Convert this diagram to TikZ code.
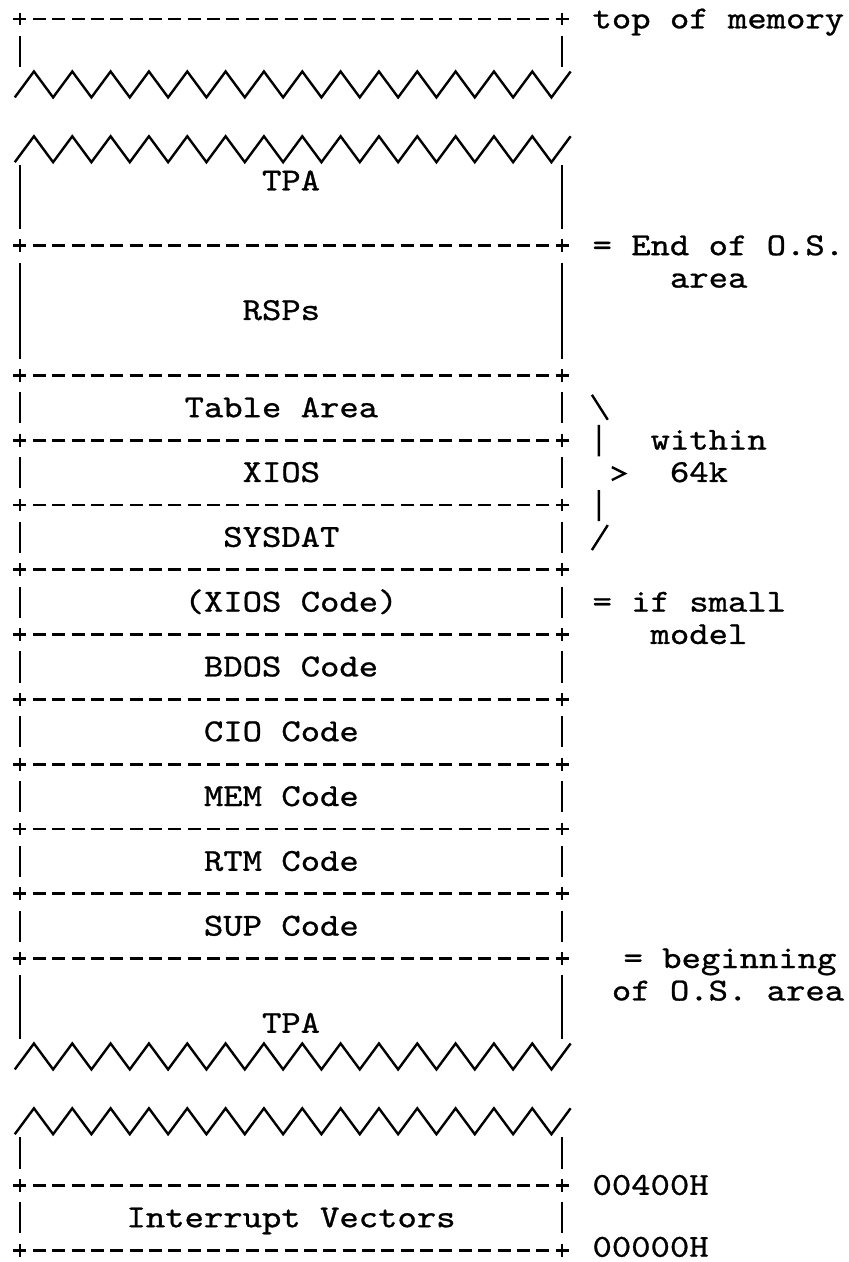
\documentclass[tikz,border=0pt]{standalone}
\usepackage{fontspec}
\usepackage{graphicx}
\usepackage{tikz}
\newfontfamily\typewriter{lmmono10-regular.otf}[FakeBold=0.8]
\newcommand\memfont{\typewriter\fontsize{16}{19}\selectfont}
\newcommand\tw[1]{\scalebox{1.152}[1]{#1}}
\tikzset{every picture/.style={line width=1.4pt}}
\tikzset{
  rowsep/.style={dash pattern=on 6.5pt off 3.18pt},
  cell/.style={font=\memfont, inner sep=0pt, anchor=base},
  side/.style={font=\memfont, inner sep=0pt, anchor=base west}
}

\begin{document}
\begin{tikzpicture}[x=9.68pt,y=-16.2pt]
\useasboundingbox (-1.033,0.414) rectangle (42.77,39.364);
%
\foreach \r in {1,8,12,14,16,18,20,22,24,26,28,30,37,39}{
  \draw[rowsep] (-0.336,\r) -- (28.336,\r);
  \draw (0,\r-0.2) -- (0,\r+0.2) (28,\r-0.2) -- (28,\r+0.2);
}
%
\foreach \a/\b in {2/2,6/7,9/11,13/13,15/15,17/17,19/19,21/21,23/23,25/25,27/27,29/29,31/32,36/36,38/38}{
  \draw[line width=1.1pt] (0,\a-0.48) -- (0,\b+0.48) (28,\a-0.48) -- (28,\b+0.48);
}
%
\foreach \r in {3,5,33,35}{
  \draw[line width=1.2pt] (-0.27,\r+0.42) \foreach \k in {1,...,14}{ -- ++(0.99,-0.8) -- ++(0.99,0.8)} -- ++(0.99,-0.8);
}
%
\node[cell] (tpahi) at (14,6.29) {\tw{TPA}};
\node[cell] (rsp) at (13.5,10.29) {\tw{RSPs}};
\node[cell] (table) at (13.5,13.29) {\tw{Table Area}};
\node[cell] (xios) at (13.5,15.29) {\tw{XIOS}};
\node[cell] (sysdat) at (13.5,17.29) {\tw{SYSDAT}};
\node[cell] (xioscode) at (14,19.29) {\tw{(XIOS Code)}};
\node[cell] (bdos) at (14,21.29) {\tw{BDOS Code}};
\node[cell] (cio) at (13.5,23.29) {\tw{CIO Code}};
\node[cell] (mem) at (13.5,25.29) {\tw{MEM Code}};
\node[cell] (rtm) at (13.5,27.29) {\tw{RTM Code}};
\node[cell] (sup) at (13.5,29.29) {\tw{SUP Code}};
\node[cell] (tpalo) at (14,32.29) {\tw{TPA}};
\node[cell] (ivec) at (14,38.29) {\tw{Interrupt Vectors}};
%
\node[side] (topmem) at (29.5,1.29) {\tw{top of memory}};
\node[side] (osend) at (29.5,8.29) {\tw{= End of O.S.}};
\node[side] (osendb) at (33.5,9.29) {\tw{area}};
\node[side] (within) at (32.5,14.29) {\tw{within}};
\node[side] (sixtyfour) at (33.5,15.29) {\tw{64k}};
\node[side] (ifsmall) at (29.5,19.29) {\tw{= if small}};
\node[side] (model) at (32.5,20.29) {\tw{model}};
\node[side] (osbeg) at (31.1,30.29) {\tw{= beginning}};
\node[side] (osbegb) at (30.5,31.29) {\tw{of O.S. area}};
\node[side] (hi) at (29.5,37.29) {\tw{00400H}};
\node[side] (lo) at (29.5,39.2) {\tw{00000H}};
%
\draw[line width=1.2pt] (29.54,12.6) -- (30.36,13.37)
      (29.9,13.53) -- (29.9,14.5)
      (30.57,14.83) -- (31.24,15.03) -- (30.57,15.23)
      (29.9,15.54) -- (29.9,16.5)
      (29.54,17.39) -- (30.36,16.62);
\end{tikzpicture}
\end{document}
